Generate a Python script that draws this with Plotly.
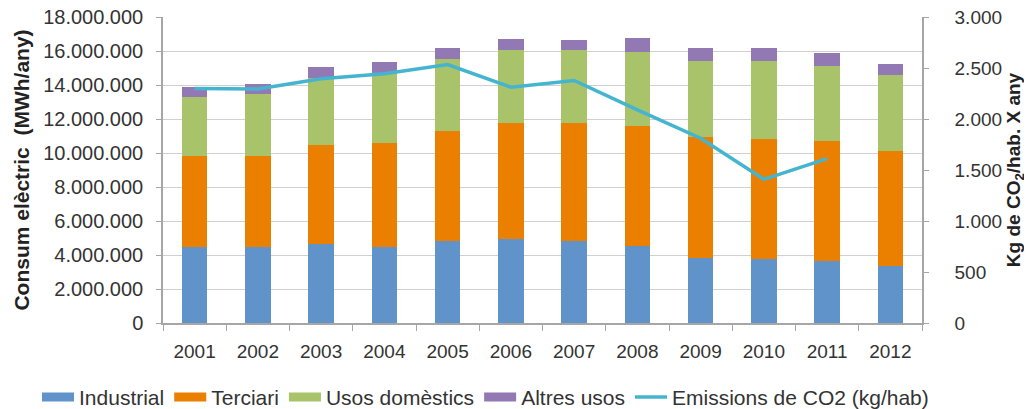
import plotly.graph_objects as go

years = ["2001", "2002", "2003", "2004", "2005", "2006", "2007", "2008", "2009", "2010", "2011", "2012"]
industrial = [4500000, 4500000, 4620000, 4500000, 4820000, 4920000, 4820000, 4520000, 3850000, 3750000, 3650000, 3370000]
terciari = [5330000, 5330000, 5880000, 6100000, 6460000, 6830000, 6930000, 7080000, 7070000, 7050000, 7030000, 6760000]
usos_domestics = [3490000, 3670000, 3930000, 4130000, 4240000, 4330000, 4330000, 4320000, 4480000, 4600000, 4440000, 4440000]
altres_usos = [580000, 570000, 610000, 630000, 670000, 610000, 590000, 870000, 790000, 790000, 760000, 670000]
emissions = [2300, 2295, 2395, 2444, 2533, 2312, 2378, 2090, 1812, 1408, 1612, None]

left_ticks = [0, 2000000, 4000000, 6000000, 8000000, 10000000, 12000000, 14000000, 16000000, 18000000]
left_labels = ["0", "2.000.000", "4.000.000", "6.000.000", "8.000.000", "10.000.000",
               "12.000.000", "14.000.000", "16.000.000", "18.000.000"]
right_ticks = [0, 500, 1000, 1500, 2000, 2500, 3000]
right_labels = ["0", "500", "1.000", "1.500", "2.000", "2.500", "3.000"]

bar_series = [
    ("Industrial", industrial, "#5F93C9"),
    ("Terciari", terciari, "#EB7F00"),
    ("Usos domèstics", usos_domestics, "#A8C36A"),
    ("Altres usos", altres_usos, "#9279B4"),
]
line_name = "Emissions de CO2 (kg/hab)"
line_color = "#45B5CF"

FONT = "Liberation Sans, Arial, sans-serif"
TXT = "#333333"

fig = go.Figure()
for name, vals, col in bar_series:
    fig.add_trace(go.Bar(x=years, y=vals, name=name, marker_color=col,
                         marker_line_width=0, showlegend=False))

fig.add_trace(go.Scatter(x=years, y=emissions, name=line_name,
                         mode="lines", line=dict(color=line_color, width=3.5),
                         yaxis="y2", connectgaps=False, showlegend=False))

# legend entries (wide flat swatches like the original legend)
for name, vals, col in bar_series:
    fig.add_trace(go.Scatter(x=[None], y=[None], name=name, mode="lines",
                             line=dict(color=col, width=9)))
fig.add_trace(go.Scatter(x=[None], y=[None], name=line_name, mode="lines",
                         line=dict(color=line_color, width=3.5)))

# page body has an 8px margin, so the figure is 8px smaller on each axis
fig.update_layout(
    width=1024, height=401,
    barmode="stack", bargap=0.6,
    plot_bgcolor="white", paper_bgcolor="white",
    margin=dict(l=155, r=110, t=9, b=86, autoexpand=False),
    font=dict(family=FONT, color=TXT),
    xaxis=dict(
        type="category", tickson="boundaries", ticks="outside", ticklen=6,
        tickcolor="#A6A6A6", showline=True, linecolor="#A6A6A6", linewidth=1.5,
        showgrid=False, tickfont=dict(family=FONT, size=19, color=TXT),
        automargin=False, ticklabelstandoff=10,
    ),
    yaxis=dict(
        range=[0, 18000000], tickvals=left_ticks, ticktext=left_labels,
        showgrid=True, gridcolor="#D0D0D0", gridwidth=1.2,
        showline=True, linecolor="#A6A6A6", linewidth=1.5,
        ticks="outside", ticklen=5, tickcolor="#A6A6A6",
        tickfont=dict(family=FONT, size=20, color=TXT), zeroline=False,
        automargin=False, ticklabelstandoff=9, ticklabeloverflow="allow",
        title=dict(text="Consum elèctric\u00a0\u00a0(MWh/any)", standoff=8,
                   font=dict(family=FONT, size=21, color="#222222", weight="bold")),
    ),
    yaxis2=dict(
        range=[0, 3000], tickvals=right_ticks, ticktext=right_labels,
        overlaying="y", side="right", showgrid=False,
        showline=True, linecolor="#A6A6A6", linewidth=1.5,
        ticks="outside", ticklen=5, tickcolor="#A6A6A6",
        tickfont=dict(family=FONT, size=19, color=TXT), zeroline=False,
        automargin=False, ticklabelstandoff=22, ticklabeloverflow="allow",
        title=dict(text="Kg de CO<sub>2</sub>/hab. X any", standoff=6,
                   font=dict(family=FONT, size=19, color="#222222", weight="bold")),
    ),
    legend=dict(
        orientation="h", x=-0.166, xanchor="left", y=-0.243, yanchor="middle",
        font=dict(family=FONT, size=21, color=TXT),
        traceorder="normal", itemwidth=32, tracegroupgap=0,
    ),
)

fig.write_html("out.html")
